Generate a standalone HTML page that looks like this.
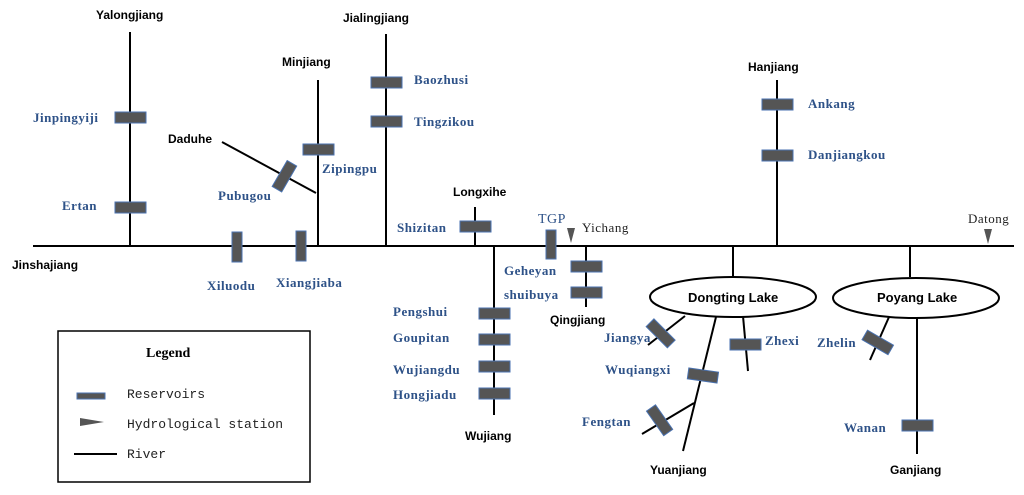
<!DOCTYPE html>
<html><head><meta charset="utf-8"><style>
html,body{margin:0;padding:0;background:#fff;}
svg{display:block}
.k{font-family:"Liberation Sans",sans-serif;font-weight:bold;font-size:12px;fill:#000}
.b{font-family:"Liberation Serif",serif;font-weight:bold;font-size:13px;fill:#2e5288;letter-spacing:0.5px}
.m{font-family:"Liberation Mono",monospace;font-size:13px;fill:#222}
.r{fill:#555;stroke:#4a72b0;stroke-width:1}
line,polyline{stroke:#000;stroke-width:2}
</style></head><body>
<svg width="1024" height="495" viewBox="0 0 1024 495">
<!-- main river -->
<line x1="33" y1="246" x2="1014" y2="246" stroke-width="3"/>
<!-- tributaries -->
<line x1="130" y1="32" x2="130" y2="246"/>
<line x1="318" y1="80" x2="318" y2="246"/>
<line x1="222" y1="142" x2="316" y2="193"/>
<line x1="386" y1="34" x2="386" y2="246"/>
<line x1="475" y1="207" x2="475" y2="246"/>
<line x1="494" y1="246" x2="494" y2="415"/>
<line x1="586" y1="246" x2="586" y2="307"/>
<line x1="777" y1="80" x2="777" y2="246"/>
<line x1="733" y1="246" x2="733" y2="277"/>
<line x1="910" y1="246" x2="910" y2="277"/>
<line x1="685" y1="316" x2="648" y2="345"/>
<line x1="716" y1="317" x2="683" y2="451"/>
<line x1="694" y1="403" x2="642" y2="434"/>
<line x1="743" y1="316" x2="748" y2="371"/>
<line x1="889" y1="317" x2="870" y2="360"/>
<line x1="917" y1="318" x2="917" y2="454"/>
<ellipse cx="733" cy="297" rx="83" ry="20" fill="#fff" stroke="#000" stroke-width="2"/>
<ellipse cx="916" cy="298" rx="83" ry="20" fill="#fff" stroke="#000" stroke-width="2"/>
<!-- reservoirs -->
<rect class="r" x="115" y="112" width="31" height="11"/>
<rect class="r" x="115" y="202" width="31" height="11"/>
<rect class="r" x="232" y="232" width="10" height="30"/>
<rect class="r" x="296" y="231" width="10" height="30"/>
<rect class="r" x="303" y="144" width="31" height="11"/>
<rect class="r" x="-15" y="-5" width="30" height="11" transform="translate(284,176) rotate(-60)"/>
<rect class="r" x="371" y="77" width="31" height="11"/>
<rect class="r" x="371" y="116" width="31" height="11"/>
<rect class="r" x="460" y="221" width="31" height="11"/>
<rect class="r" x="479" y="308" width="31" height="11"/>
<rect class="r" x="479" y="334" width="31" height="11"/>
<rect class="r" x="479" y="361" width="31" height="11"/>
<rect class="r" x="479" y="388" width="31" height="11"/>
<rect class="r" x="546" y="230" width="10" height="29"/>
<rect class="r" x="571" y="261" width="31" height="11"/>
<rect class="r" x="571" y="287" width="31" height="11"/>
<rect class="r" x="762" y="99" width="31" height="11"/>
<rect class="r" x="762" y="150" width="31" height="11"/>
<rect class="r" x="-15" y="-5" width="30" height="11" transform="translate(661,333) rotate(45)"/>
<rect class="r" x="-15" y="-5" width="30" height="11" transform="translate(703,375) rotate(8)"/>
<rect class="r" x="-15" y="-5" width="30" height="11" transform="translate(660,420) rotate(55)"/>
<rect class="r" x="730" y="339" width="31" height="11"/>
<rect class="r" x="-15" y="-5" width="30" height="11" transform="translate(878,342) rotate(30)"/>
<rect class="r" x="902" y="420" width="31" height="11"/>
<!-- stations -->
<polygon points="567,228 575,228 571,243" fill="#555"/>
<polygon points="984,229 992,229 988,244" fill="#555"/>
<!-- black labels -->
<text class="k" x="96" y="19">Yalongjiang</text>
<text class="k" x="343" y="22">Jialingjiang</text>
<text class="k" x="282" y="66">Minjiang</text>
<text class="k" x="168" y="143">Daduhe</text>
<text class="k" x="453" y="196">Longxihe</text>
<text class="k" x="12" y="269">Jinshajiang</text>
<text class="k" x="465" y="440">Wujiang</text>
<text class="k" x="550" y="324">Qingjiang</text>
<text class="k" x="748" y="71">Hanjiang</text>
<text class="k" x="688" y="302" style="font-size:13px">Dongting Lake</text>
<text class="k" x="877" y="302" style="font-size:13px">Poyang Lake</text>
<text class="k" x="650" y="474">Yuanjiang</text>
<text class="k" x="890" y="474">Ganjiang</text>
<!-- blue labels -->
<text class="b" x="33" y="122">Jinpingyiji</text>
<text class="b" x="62" y="210">Ertan</text>
<text class="b" x="218" y="200">Pubugou</text>
<text class="b" x="322" y="173">Zipingpu</text>
<text class="b" x="414" y="84">Baozhusi</text>
<text class="b" x="414" y="126">Tingzikou</text>
<text class="b" x="397" y="232">Shizitan</text>
<text class="b" x="207" y="290">Xiluodu</text>
<text class="b" x="276" y="287">Xiangjiaba</text>
<text class="b" x="393" y="316">Pengshui</text>
<text class="b" x="393" y="342">Goupitan</text>
<text class="b" x="393" y="374">Wujiangdu</text>
<text class="b" x="393" y="399">Hongjiadu</text>
<text class="b" x="538" y="223" style="font-weight:normal;font-size:14px">TGP</text>
<text class="b" x="582" y="232" style="font-weight:normal;fill:#222">Yichang</text>
<text class="b" x="504" y="275">Geheyan</text>
<text class="b" x="504" y="299">shuibuya</text>
<text class="b" x="808" y="108">Ankang</text>
<text class="b" x="808" y="159">Danjiangkou</text>
<text class="b" x="968" y="223" style="font-weight:normal;fill:#222">Datong</text>
<text class="b" x="604" y="342">Jiangya</text>
<text class="b" x="605" y="374">Wuqiangxi</text>
<text class="b" x="582" y="426">Fengtan</text>
<text class="b" x="765" y="345">Zhexi</text>
<text class="b" x="817" y="347">Zhelin</text>
<text class="b" x="844" y="432">Wanan</text>
<!-- legend -->
<rect x="58" y="331" width="252" height="151" fill="none" stroke="#000" stroke-width="1.5"/>
<text x="146" y="357" style="font-family:'Liberation Serif',serif;font-weight:bold;font-size:14px">Legend</text>
<rect x="77" y="393" width="28" height="6" fill="#555" stroke="#4a72b0"/>
<polygon points="80,418 104,422 80,426" fill="#555"/>
<line x1="74" y1="454" x2="117" y2="454" stroke-width="1.5"/>
<text class="m" x="127" y="398">Reservoirs</text>
<text class="m" x="127" y="428">Hydrological station</text>
<text class="m" x="127" y="458">River</text>
</svg>
</body></html>
